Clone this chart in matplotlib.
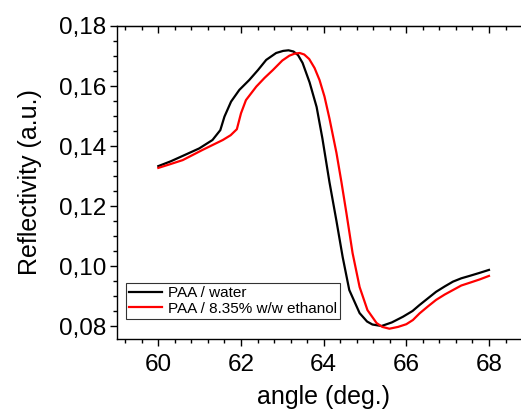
import matplotlib
matplotlib.use('Agg')
import matplotlib.pyplot as plt
from matplotlib.ticker import MultipleLocator, FuncFormatter

plt.rcParams['font.family'] = ['Liberation Sans', 'DejaVu Sans']

# Datos
angle_water = [60.0, 60.3, 60.59, 60.99, 61.31, 61.5, 61.6, 61.76, 61.96, 62.2, 62.41,
               62.61, 62.85, 63.02, 63.15, 63.27, 63.38, 63.49, 63.66, 63.83, 63.97,
               64.14, 64.31, 64.46, 64.62, 64.87, 65.05, 65.18, 65.4, 65.65, 65.92,
               66.15, 66.32, 66.52, 66.72, 66.93, 67.13, 67.33, 67.53, 67.77, 68.0]
refl_water = [0.1333, 0.1349, 0.1367, 0.1392, 0.1420, 0.1453, 0.1498, 0.1548, 0.1587,
              0.1620, 0.1653, 0.1687, 0.1710, 0.1717, 0.1719, 0.1715, 0.1703, 0.1677,
              0.1612, 0.1530, 0.1425, 0.1280, 0.1150, 0.1030, 0.0920, 0.0843, 0.0815,
              0.0805, 0.0800, 0.0812, 0.0831, 0.0850, 0.0870, 0.0892, 0.0914, 0.0932,
              0.0948, 0.0959, 0.0967, 0.0977, 0.0987]

angle_eth = [60.0, 60.3, 60.59, 61.07, 61.56, 61.75, 61.9, 62.0, 62.12, 62.37, 62.57,
             62.77, 63.0, 63.17, 63.3, 63.42, 63.53, 63.65, 63.78, 63.9, 64.02,
             64.14, 64.31, 64.43, 64.55, 64.7, 64.87, 65.06, 65.28, 65.42, 65.59,
             65.8, 66.0, 66.16, 66.32, 66.52, 66.72, 66.93, 67.13, 67.33, 67.53,
             67.77, 68.0]
refl_eth = [0.1327, 0.1340, 0.1353, 0.1387, 0.1420, 0.1436, 0.1456, 0.1509, 0.1553,
            0.1598, 0.1627, 0.1653, 0.1685, 0.1701, 0.1708, 0.1710, 0.1705, 0.1690,
            0.1660, 0.1620, 0.1565, 0.1492, 0.1377, 0.1280, 0.1177, 0.1043, 0.0930,
            0.0853, 0.0810, 0.0797, 0.0791, 0.0797, 0.0806, 0.0820, 0.0842, 0.0865,
            0.0887, 0.0905, 0.0920, 0.0935, 0.0944, 0.0955, 0.0967]

labels = ['PAA / water', 'PAA / 8.35% w/w ethanol']

fig = plt.figure(figsize=(5.21, 4.12), dpi=100)
ax = fig.add_axes([117 / 521, 1 - 339 / 412, 413.3 / 521, 313 / 412])

ax.plot(angle_water, refl_water, color='black', lw=1.6, label=labels[0])
ax.plot(angle_eth, refl_eth, color='red', lw=1.6, label=labels[1])

ax.set_xlim(59, 69)
ax.set_ylim(0.07567, 0.18)

ax.xaxis.set_major_locator(MultipleLocator(2))
ax.xaxis.set_minor_locator(MultipleLocator(0.4))
ax.yaxis.set_major_locator(MultipleLocator(0.02))
ax.yaxis.set_minor_locator(MultipleLocator(0.005))
ax.yaxis.set_major_formatter(FuncFormatter(lambda v, _: f'{v:.2f}'.replace('.', ',')))
ax.xaxis.set_major_formatter(FuncFormatter(lambda v, _: f'{int(round(v))}'))

ax.tick_params(which='both', direction='out', labelsize=17.5, width=1)
ax.tick_params(which='major', length=5, pad=3)
ax.tick_params(which='minor', length=3)
ax.tick_params(axis='x', pad=6)
ax.spines['right'].set_visible(False)
for s in ax.spines.values():
    s.set_linewidth(1.0)

# eje superior con ticks hacia dentro
top = ax.secondary_xaxis('top')
top.xaxis.set_major_locator(MultipleLocator(2))
top.xaxis.set_minor_locator(MultipleLocator(0.4))
top.tick_params(which='both', direction='in', labeltop=False, width=1)
top.tick_params(which='major', length=5)
top.tick_params(which='minor', length=3)

ax.set_xlabel('angle (deg.)', fontsize=18, labelpad=6)
ax.set_ylabel('Reflectivity (a.u.)', fontsize=18, labelpad=12)

leg = ax.legend(loc='lower left', bbox_to_anchor=(0.021, 0.065), fontsize=11,
                frameon=True, fancybox=False, edgecolor='black', borderpad=0.2,
                handlelength=2.2, handletextpad=0.35, labelspacing=0.1, borderaxespad=0)
leg.get_frame().set_linewidth(0.8)

fig.savefig('out.png', dpi=100)
